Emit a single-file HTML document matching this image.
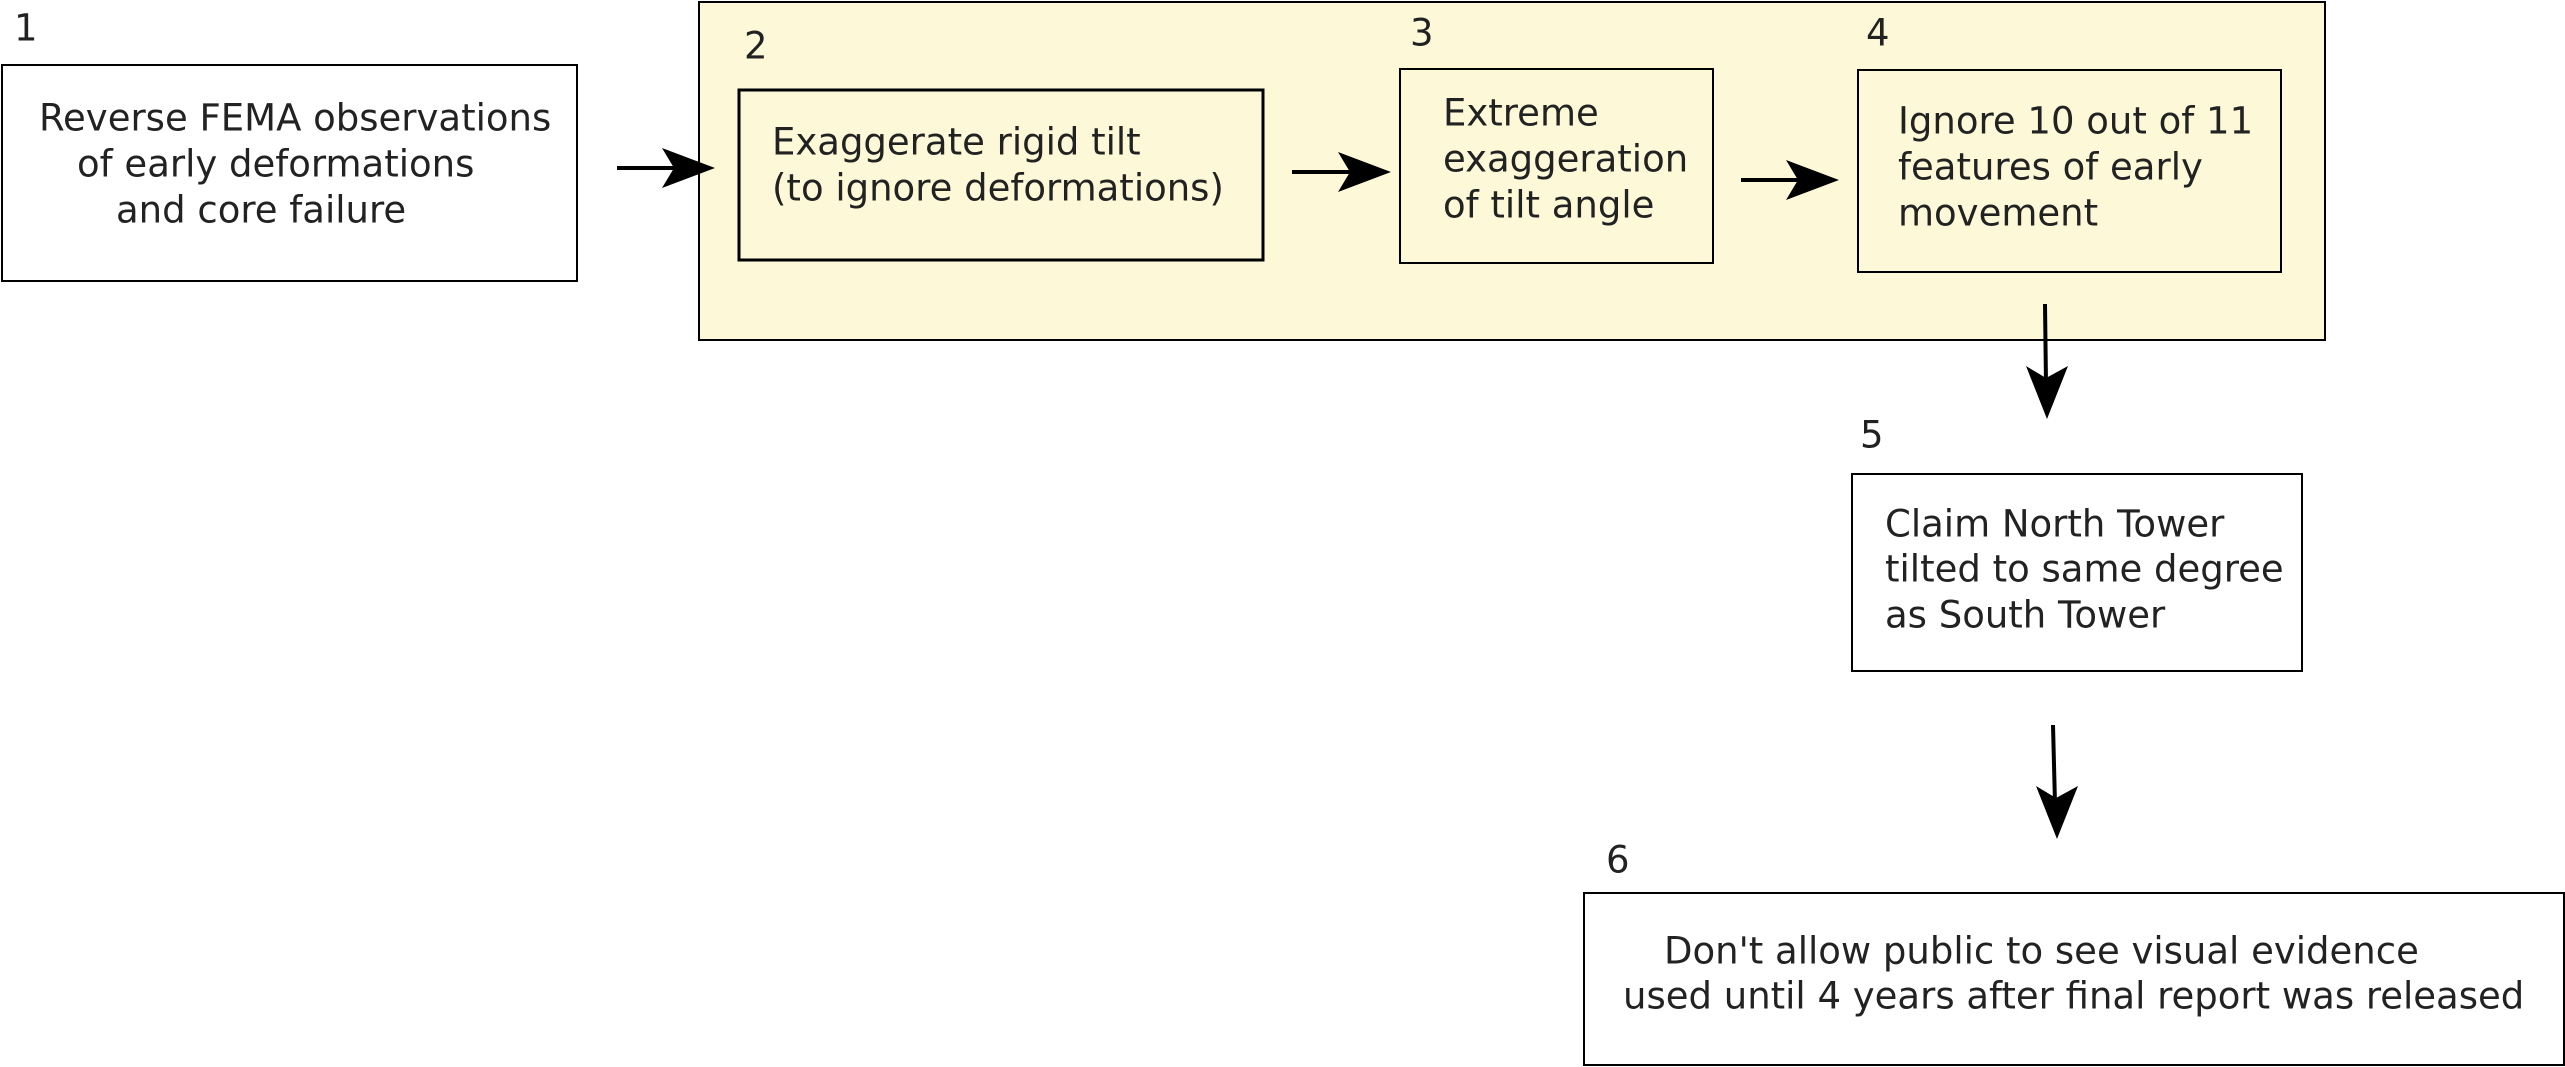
<!DOCTYPE html>
<html><head><style>body{margin:0;background:#fff}svg{display:block}</style></head><body>
<svg width="2565" height="1067" viewBox="0 0 2565 1067" xmlns="http://www.w3.org/2000/svg" font-family="'DejaVu Sans','Liberation Sans',sans-serif" font-size="37" fill="#222">
<rect x="699" y="2" width="1626" height="338" fill="#fdf9d8" stroke="#000" stroke-width="2"/>
<rect x="2" y="65" width="575" height="216" fill="#fff" stroke="#000" stroke-width="2"/>
<rect x="739" y="90" width="524" height="170" fill="#fdf9d8" stroke="#000" stroke-width="3"/>
<rect x="1400" y="69" width="313" height="194" fill="#fdf9d8" stroke="#000" stroke-width="2"/>
<rect x="1858" y="70" width="423" height="202" fill="#fdf9d8" stroke="#000" stroke-width="2"/>
<rect x="1852" y="474" width="450" height="197" fill="#fff" stroke="#000" stroke-width="2"/>
<rect x="1584" y="893" width="980" height="172" fill="#fff" stroke="#000" stroke-width="2"/>
<g dominant-baseline="central">
<text x="14" y="28">1</text><text x="744" y="46">2</text><text x="1410" y="33">3</text><text x="1866" y="33">4</text><text x="1860" y="435">5</text><text x="1606" y="860">6</text>
<text x="39" y="118">Reverse FEMA observations</text>
<text x="77" y="164">of early deformations</text>
<text x="116" y="210">and core failure</text>
<text x="772" y="142">Exaggerate rigid tilt</text>
<text x="772" y="188">(to ignore deformations)</text>
<text x="1443" y="113">Extreme</text>
<text x="1443" y="159">exaggeration</text>
<text x="1443" y="205">of tilt angle</text>
<text x="1898" y="121">Ignore 10 out of 11</text>
<text x="1898" y="167">features of early</text>
<text x="1898" y="213">movement</text>
<text x="1885" y="524">Claim North Tower</text>
<text x="1885" y="569">tilted to same degree</text>
<text x="1885" y="615">as South Tower</text>
<text x="1664" y="951">Don't allow public to see visual evidence</text>
<text x="1623" y="996">used until 4 years after final report was released</text>
</g>
<g stroke="#000" stroke-width="4">
<line x1="617" y1="168" x2="680" y2="168"/>
<line x1="1292" y1="172" x2="1355" y2="172"/>
<line x1="1741" y1="180" x2="1804" y2="180"/>
<line x1="2045" y1="304" x2="2046" y2="384"/>
<line x1="2053" y1="725" x2="2055" y2="804"/>
</g>
<g fill="#000">
<path d="M715 168 L662 148 L674 168 L662 188Z"/>
<path d="M1391 172 L1338 152 L1350 172 L1338 192Z"/>
<path d="M1839 180 L1786 160 L1798 180 L1786 200Z"/>
<path d="M2047 419 L2026 366 L2046 378 L2068 366Z"/>
<path d="M2057 839 L2036 786 L2056 798 L2078 786Z"/>
</g>
</svg>
</body></html>
